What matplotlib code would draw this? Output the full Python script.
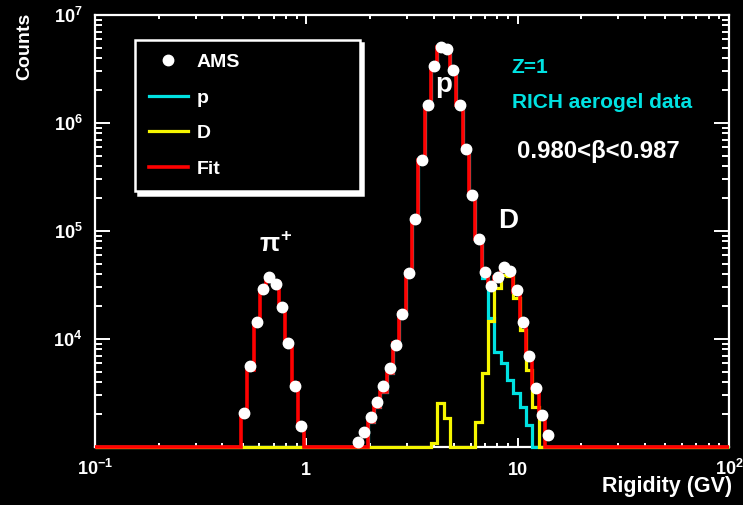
import numpy as np
import matplotlib
matplotlib.use("Agg")
import matplotlib.pyplot as plt
from matplotlib.ticker import LogLocator, NullFormatter, FixedLocator

plt.rcParams['font.family'] = ['Liberation Sans', 'DejaVu Sans']
plt.rcParams['font.weight'] = 'bold'
plt.rcParams['mathtext.fontset'] = 'custom'
plt.rcParams['mathtext.rm'] = 'Liberation Sans:bold'
plt.rcParams['mathtext.it'] = 'Liberation Sans:bold'
plt.rcParams['mathtext.bf'] = 'Liberation Sans:bold'

# ---------------- data ----------------
n_bins = 100
r_min, r_max = 0.1, 100.0
y_min, y_max = 1e3, 1e7

# AMS data (counts per bin), pion region starts at bin 23
data_pion_first = 23
data_pion = [2080, 5620, 14500, 28800, 37800, 32200, 19700, 9120, 3700, 1580]
# AMS data, proton / deuteron region starts at bin 41
data_pd_first = 41
data_pd = [1120, 1387, 1910, 2630, 3675, 5360, 8800, 17000, 41100, 129000,
           454000, 1.46e6, 3.37e6, 5.08e6, 4.81e6, 3.08e6, 1.46e6, 574000,
           217000, 84300, 42000, 31000, 37800, 46700, 42700, 28500, 14300,
           7000, 3490, 1980, 1290]

# Fit (red)
fit_pion_first = 23
fit_pion = [2000, 5160, 14500, 28500, 36500, 34000, 20000, 9120, 3890, 1490]
fit_pd_first = 43
fit_pd = [1720, 2360, 3250, 4810, 9120, 17300, 42000, 129000, 454000, 1.46e6,
          3.37e6, 5.1e6, 4.9e6, 3.1e6, 1.46e6, 574000, 217000, 84300, 42000,
          32800, 37800, 45200, 42000, 27000, 14000, 7000, 3500, 1900]

# proton template (cyan)
p_first = 43
p_comp = [1720, 2360, 3250, 4810, 9120, 17300, 42000, 129000, 454000, 1.46e6,
          3.37e6, 5.1e6, 4.9e6, 3.1e6, 1.46e6, 574000, 217000, 82000, 37000,
          15600, 7600, 6000, 4200, 3170, 2360, 1600]

# deuteron template (yellow)
d_first = 53
d_comp = [1080, 2550, 1840, 0, 0, 0, 0, 1720, 4840, 14800, 29500, 39200,
          38000, 23800, 12100, 5160, 2360]

legend_labels = ['AMS', 'p', 'D', 'Fit']
x_ticks = [0.1, 1, 10, 100]
x_tick_labels = [r'$10^{-1}$', '1', '10', r'$10^{2}$']
y_ticks = [1e4, 1e5, 1e6, 1e7]
y_tick_labels = [r'$10^{4}$', r'$10^{5}$', r'$10^{6}$', r'$10^{7}$']

# ---------------- build histograms ----------------
edges = np.logspace(np.log10(r_min), np.log10(r_max), n_bins + 1)
centers = np.sqrt(edges[:-1] * edges[1:])


def fill(first, vals):
    arr = np.zeros(n_bins)
    arr[first:first + len(vals)] = vals
    return arr


data = fill(data_pion_first, data_pion) + fill(data_pd_first, data_pd)
fit = fill(fit_pion_first, fit_pion) + fill(fit_pd_first, fit_pd)
pc = fill(p_first, p_comp)
dc = fill(d_first, d_comp)

CYAN = '#00e2e2'
YELLOW = '#f6f600'
RED = '#ff0000'

fig = plt.figure(figsize=(7.43, 5.05), dpi=100, facecolor='black')
ax = fig.add_axes([95 / 743, 1 - 447 / 505, 634 / 743, 432 / 505], facecolor='black')
ax.set_xscale('log')
ax.set_yscale('log')
ax.set_xlim(r_min, r_max)
ax.set_ylim(y_min, y_max)

h_p = ax.stairs(np.maximum(pc, y_min), edges, baseline=None, color=CYAN, lw=2.3,
                zorder=3, clip_on=False)
h_d = ax.stairs(np.maximum(dc, y_min), edges, baseline=None, color=YELLOW, lw=2.3,
                zorder=4, clip_on=False)
h_fit = ax.stairs(np.maximum(fit, y_min), edges, baseline=None, color=RED, lw=2.6,
                  zorder=5, clip_on=False)
mask = data > 0
h_data, = ax.plot(centers[mask], data[mask], 'o', color='white', ms=7.5,
                  mec='white', zorder=6, clip_on=False, linestyle='none')

# axes styling
for s in ax.spines.values():
    s.set_color('white')
    s.set_linewidth(1.6)
    s.set_zorder(2)

ax.xaxis.set_major_locator(FixedLocator(x_ticks))
ax.set_xticklabels(x_tick_labels)
ax.yaxis.set_major_locator(FixedLocator(y_ticks))
ax.set_yticklabels(y_tick_labels)
ax.xaxis.set_minor_locator(LogLocator(base=10, subs=np.arange(2, 10), numticks=30))
ax.yaxis.set_minor_locator(LogLocator(base=10, subs=np.arange(2, 10), numticks=30))
ax.xaxis.set_minor_formatter(NullFormatter())
ax.yaxis.set_minor_formatter(NullFormatter())

ax.tick_params(which='both', direction='in', top=True, right=True, colors='white',
               labelcolor='white', labelsize=13, width=1.4)
ax.tick_params(axis='x', which='major', length=6.5, pad=20)
ax.tick_params(axis='x', which='minor', length=3)
ax.tick_params(axis='y', which='major', length=11, pad=9)
ax.tick_params(axis='y', which='minor', length=5)
for lab in ax.get_xticklabels():
    lab.set_verticalalignment('baseline')

# axis titles
fig.text(25 / 743, 1 - 13 / 505, 'Counts', rotation=90, ha='center', va='top',
         color='white', fontsize=14, fontweight='bold')
fig.text(732 / 743, 1 - 491.7 / 505, 'Rigidity (GV)', ha='right', va='baseline',
         color='white', fontsize=15.5, fontweight='bold')

# legend
leg = ax.legend(handles=[h_data, h_p, h_d, h_fit], labels=legend_labels,
                loc='upper left',
                bbox_to_anchor=(40 / 634, 260 / 432, 225 / 634, 147 / 432),
                mode='expand', borderaxespad=0, frameon=True, fancybox=False,
                framealpha=1, facecolor='black', edgecolor='white',
                shadow={'ox': 2.5, 'oy': -2.5, 'color': 'white', 'alpha': 1},
                prop={'size': 14, 'weight': 'bold'}, labelcolor='white',
                handlelength=2.0, handletextpad=0.46, borderpad=0.7,
                labelspacing=0.92, numpoints=1)
leg.get_frame().set_linewidth(1.8)
leg.set_zorder(10)


def ax_xy(px, py):
    return (px - 95) / 634, (447 - py) / 432


ax.text(*ax_xy(511, 73.3), 'Z=1', color=CYAN, fontsize=15, fontweight='bold',
        ha='left', va='baseline', transform=ax.transAxes)
ax.text(*ax_xy(511.5, 108.3), 'RICH aerogel data', color=CYAN, fontsize=15,
        fontweight='bold', ha='left', va='baseline', transform=ax.transAxes)
ax.text(*ax_xy(516.7, 158.3), '0.980<β<0.987', color='white', fontsize=17.2,
        fontweight='bold', ha='left', va='baseline', transform=ax.transAxes)
ax.text(*ax_xy(443.5, 91.7), 'p', color='white', fontsize=20, fontweight='bold',
        ha='center', va='baseline', transform=ax.transAxes, zorder=7)
ax.text(*ax_xy(508, 228.3), 'D', color='white', fontsize=20, fontweight='bold',
        ha='center', va='baseline', transform=ax.transAxes, zorder=7)
ax.text(*ax_xy(259, 251.7), r'$\pi^{+}$', color='white', fontsize=19,
        ha='left', va='baseline', transform=ax.transAxes, zorder=7)

fig.savefig('out.png', dpi=100, facecolor='black')
